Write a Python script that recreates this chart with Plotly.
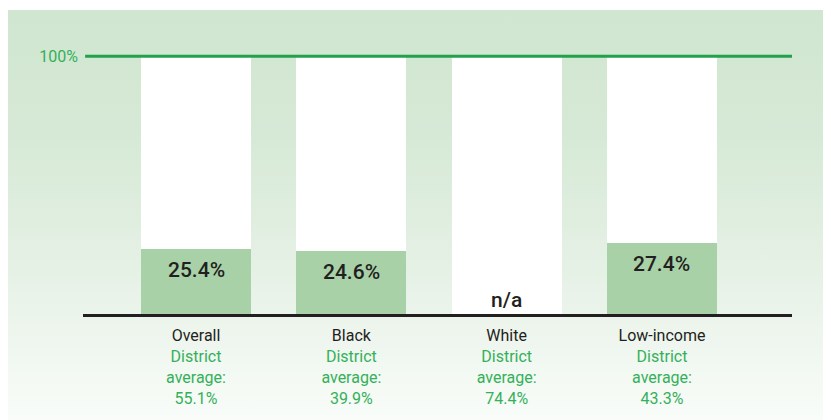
import base64
import plotly.graph_objects as go

# ---- data ----
categories = ["Overall", "Black", "White", "Low-income"]
values = [25.4, 24.6, None, 27.4]
district_avg = ["55.1%", "39.9%", "74.4%", "43.3%"]
full_scale = [100, 100, 100, 100]
y_ticks = [100]
y_tick_labels = ["100%"]

GREEN_TEXT = "#35b05a"
GREEN_LINE = "#22a04b"
BAR_GREEN = "#a8d1a8"
DARK = "#231f20"
FONT = "Roboto, Arial, sans-serif"

x = list(range(len(categories)))

ticktext = [
    f"{c}<br><span style='color:{GREEN_TEXT}'>District</span>"
    f"<br><span style='color:{GREEN_TEXT}'>average:</span>"
    f"<br><span style='color:{GREEN_TEXT}'>{a}</span>"
    for c, a in zip(categories, district_avg)
]

fig = go.Figure()
fig.add_trace(go.Bar(x=x, y=full_scale, marker=dict(color="white", line=dict(width=0)),
                     width=0.708, hoverinfo="skip", showlegend=False))
fig.add_trace(go.Bar(x=x, y=values, marker=dict(color=BAR_GREEN, line=dict(width=0)),
                     width=0.708, hoverinfo="skip", showlegend=False))

for xi, v in zip(x, values):
    if v is None:
        fig.add_annotation(x=xi, y=0, yshift=14, text="n/a", showarrow=False,
                           font=dict(family=FONT, size=21, color=DARK, weight=500),
                           yanchor="middle")
    else:
        fig.add_annotation(x=xi, y=v, yshift=-21, text=f"{v:.1f}%", showarrow=False,
                           font=dict(family=FONT, size=21, color=DARK, weight=500),
                           yanchor="middle")

# 100% reference line drawn on top of the bars
for t in y_ticks:
    fig.add_shape(type="line", xref="paper", x0=0.003, x1=1, yref="y", y0=t, y1=t,
                  line=dict(color=GREEN_LINE, width=3), layer="above")

# gradient background panel
svg = ("<svg xmlns='http://www.w3.org/2000/svg' width='100' height='100' preserveAspectRatio='none'>"
       "<defs><linearGradient id='g' x1='0' y1='0' x2='0' y2='1'>"
       "<stop offset='0' stop-color='#d0e6d0'/>"
       "<stop offset='0.3' stop-color='#d6e9d6'/>"
       "<stop offset='0.55' stop-color='#e2efe2'/>"
       "<stop offset='0.8' stop-color='#eff6ef'/>"
       "<stop offset='1' stop-color='#fafdfa'/>"
       "</linearGradient></defs><rect width='100' height='100' fill='url(#g)'/></svg>")
src = "data:image/svg+xml;base64," + base64.b64encode(svg.encode()).decode()
W, H = 831, 420
L, R, T, B = 75, 47, 43, 114
PW, PH = W - L - R, H - T - B
fig.add_layout_image(source=src, xref="paper", yref="paper",
                     x=(0 - L) / PW, y=(H - B - 2) / PH,
                     sizex=W / PW, sizey=(H - 2) / PH,
                     xanchor="left", yanchor="top", sizing="stretch", layer="below")

fig.update_layout(
    width=W, height=H,
    margin=dict(l=L, r=R, t=T, b=B),
    paper_bgcolor="white", plot_bgcolor="rgba(0,0,0,0)",
    barmode="overlay", bargap=0,
    font=dict(family=FONT, size=16, color=DARK),
    xaxis=dict(range=[-0.7276, 3.837], tickvals=x, ticktext=ticktext,
               showgrid=False, zeroline=False, showline=True, linecolor=DARK, linewidth=3,
               ticks="", ticklabelstandoff=5,
               tickfont=dict(family=FONT, size=16, color=DARK), fixedrange=True),
    yaxis=dict(range=[0, 102], tickvals=y_ticks, ticktext=y_tick_labels,
               showgrid=False, zeroline=False, showline=False, ticks="",
               ticklabelstandoff=4,
               tickfont=dict(family=FONT, size=16, color=GREEN_TEXT), fixedrange=True),
)

fig.write_html("out.html")
